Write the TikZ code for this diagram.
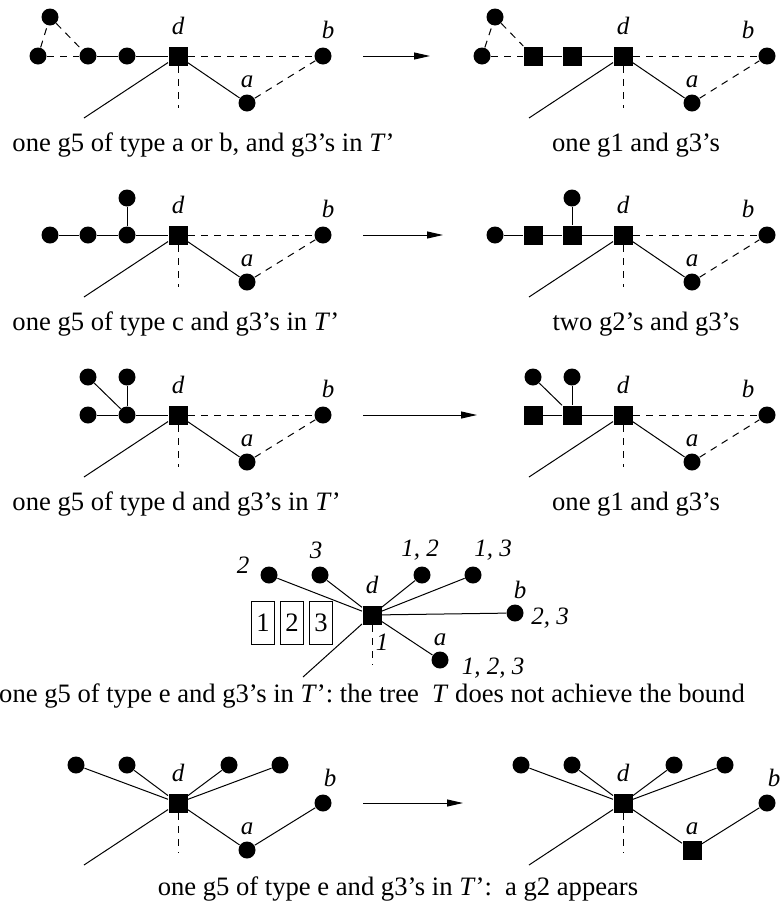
\documentclass[tikz,border=0pt]{standalone}
\usepackage{fontspec}
\setmainfont{Liberation Serif}
\usepackage{tikz}
\usetikzlibrary{arrows.meta,positioning}

\begin{document}
\begin{tikzpicture}[
  x=1pt, y=-1pt, line width=1pt,
  font=\fontsize{26.6pt}{31pt}\selectfont,
  dot/.style={circle, fill, inner sep=0pt, minimum size=17pt},
  sq/.style={rectangle, fill, inner sep=0pt, minimum size=19pt},
  lab/.style={inner sep=0pt, font=\fontsize{25pt}{30pt}\selectfont\itshape},
  capw/.style={inner sep=0pt, anchor=base west},
  capc/.style={inner sep=0pt, anchor=base},
  numbox/.style={draw, inner sep=0pt, minimum width=23pt, minimum height=43pt},
  dashln/.style={dash pattern=on 7pt off 6pt},
  arr/.style={-{Triangle[length=16pt,width=7pt]}}
]
\useasboundingbox (0,0) rectangle (783,919);

% row 1, left
\node[dot] (a1t) at (50,17) {};
\node[dot] (a1l) at (38,56) {};
\node[dot] (a1m) at (88,56) {};
\node[dot] (a1n) at (127,56) {};
\node[sq] (a1d) at (178,56) {};
\node[dot] (a1b) at (323,56) {};
\node[dot] (a1a) at (247,103) {};
\coordinate (a1x) at (84,118);
\coordinate (a1y) at (178,108);
\node[lab, above=11pt of a1d] (a1dl) {d};
\node[lab, above=8pt of a1b, xshift=5pt] (a1bl) {b};
\node[lab, above=6pt of a1a] (a1al) {a};
\draw[dashln] (a1l) -- (a1m);
\draw[dashln] (a1l) -- (a1t) -- (a1m);
\draw (a1m) -- (a1n) -- (a1d);
\draw[dashln] (a1d) -- (a1b);
\draw (a1d) -- (a1a);
\draw[dashln] (a1a) -- (a1b);
\draw (a1d) -- (a1x);
\draw[dashln] (a1d) -- (a1y);
\node[capw] (a1cap) at (12,151) {one g5 of type a or b, and g3’s in \textit{T}’};

\coordinate (r1s) at (363,56);
\coordinate (r1e) at (430,56);
\draw[arr] (r1s) -- (r1e);

% row 1, right
\node[dot] (b1t) at (495,17) {};
\node[dot] (b1l) at (482,56) {};
\node[sq] (b1m) at (533,56) {};
\node[sq] (b1n) at (572,56) {};
\node[sq] (b1d) at (623,56) {};
\node[dot] (b1b) at (767,56) {};
\node[dot] (b1a) at (692,103) {};
\coordinate (b1x) at (529,118);
\coordinate (b1y) at (623,108);
\node[lab, above=11pt of b1d] (b1dl) {d};
\node[lab, above=8pt of b1b, xshift=-19pt] (b1bl) {b};
\node[lab, above=6pt of b1a] (b1al) {a};
\draw[dashln] (b1l) -- (b1m);
\draw[dashln] (b1l) -- (b1t) -- (b1m);
\draw (b1m) -- (b1n) -- (b1d);
\draw[dashln] (b1d) -- (b1b);
\draw (b1d) -- (b1a);
\draw[dashln] (b1a) -- (b1b);
\draw (b1d) -- (b1x);
\draw[dashln] (b1d) -- (b1y);
\node[capc] (b1cap) at (636,151) {one g1 and g3’s};

% row 2, left
\node[dot] (a2l) at (50,235) {};
\node[dot] (a2m) at (88,235) {};
\node[dot] (a2n) at (127,235) {};
\node[dot] (a2t) at (127,198) {};
\node[sq] (a2d) at (178,235) {};
\node[dot] (a2b) at (323,235) {};
\node[dot] (a2a) at (247,282) {};
\coordinate (a2x) at (84,297);
\coordinate (a2y) at (178,287);
\node[lab, above=11pt of a2d] (a2dl) {d};
\node[lab, above=8pt of a2b, xshift=5pt] (a2bl) {b};
\node[lab, above=6pt of a2a] (a2al) {a};
\draw (a2l) -- (a2m) -- (a2n) -- (a2d);
\draw (a2t) -- (a2n);
\draw[dashln] (a2d) -- (a2b);
\draw (a2d) -- (a2a);
\draw[dashln] (a2a) -- (a2b);
\draw (a2d) -- (a2x);
\draw[dashln] (a2d) -- (a2y);
\node[capw] (a2cap) at (12,330) {one g5 of type c and g3’s in \textit{T}’};

\coordinate (r2s) at (363,235);
\coordinate (r2e) at (443,235);
\draw[arr] (r2s) -- (r2e);

% row 2, right
\node[dot] (b2l) at (495,235) {};
\node[sq] (b2m) at (533,235) {};
\node[sq] (b2n) at (572,235) {};
\node[dot] (b2t) at (572,198) {};
\node[sq] (b2d) at (623,235) {};
\node[dot] (b2b) at (767,235) {};
\node[dot] (b2a) at (692,282) {};
\coordinate (b2x) at (529,297);
\coordinate (b2y) at (623,287);
\node[lab, above=11pt of b2d] (b2dl) {d};
\node[lab, above=8pt of b2b, xshift=-19pt] (b2bl) {b};
\node[lab, above=6pt of b2a] (b2al) {a};
\draw (b2l) -- (b2m) -- (b2n) -- (b2d);
\draw (b2t) -- (b2n);
\draw[dashln] (b2d) -- (b2b);
\draw (b2d) -- (b2a);
\draw[dashln] (b2a) -- (b2b);
\draw (b2d) -- (b2x);
\draw[dashln] (b2d) -- (b2y);
\node[capc] (b2cap) at (646,330) {two g2’s and g3’s};

% row 3, left
\node[dot] (a3p) at (88,377) {};
\node[dot] (a3q) at (127,377) {};
\node[dot] (a3m) at (88,415) {};
\node[dot] (a3n) at (127,415) {};
\node[sq] (a3d) at (178,415) {};
\node[dot] (a3b) at (323,415) {};
\node[dot] (a3a) at (247,462) {};
\coordinate (a3x) at (84,477);
\coordinate (a3y) at (178,467);
\node[lab, above=11pt of a3d] (a3dl) {d};
\node[lab, above=8pt of a3b, xshift=5pt] (a3bl) {b};
\node[lab, above=6pt of a3a] (a3al) {a};
\draw (a3m) -- (a3n) -- (a3d);
\draw (a3p) -- (a3n);
\draw (a3q) -- (a3n);
\draw[dashln] (a3d) -- (a3b);
\draw (a3d) -- (a3a);
\draw[dashln] (a3a) -- (a3b);
\draw (a3d) -- (a3x);
\draw[dashln] (a3d) -- (a3y);
\node[capw] (a3cap) at (12,510) {one g5 of type d and g3’s in \textit{T}’};

\coordinate (r3s) at (363,415);
\coordinate (r3e) at (477,415);
\draw[arr] (r3s) -- (r3e);

% row 3, right
\node[dot] (b3p) at (533,377) {};
\node[dot] (b3q) at (572,377) {};
\node[sq] (b3m) at (533,415) {};
\node[sq] (b3n) at (572,415) {};
\node[sq] (b3d) at (623,415) {};
\node[dot] (b3b) at (767,415) {};
\node[dot] (b3a) at (692,462) {};
\coordinate (b3x) at (529,477);
\coordinate (b3y) at (623,467);
\node[lab, above=11pt of b3d] (b3dl) {d};
\node[lab, above=8pt of b3b, xshift=-19pt] (b3bl) {b};
\node[lab, above=6pt of b3a] (b3al) {a};
\draw (b3m) -- (b3n) -- (b3d);
\draw (b3p) -- (b3n);
\draw (b3q) -- (b3n);
\draw[dashln] (b3d) -- (b3b);
\draw (b3d) -- (b3a);
\draw[dashln] (b3a) -- (b3b);
\draw (b3d) -- (b3x);
\draw[dashln] (b3d) -- (b3y);
\node[capc] (b3cap) at (636,510) {one g1 and g3’s};

% middle tree
\node[sq] (md) at (372,615) {};
\node[dot] (m1) at (269,575) {};
\node[dot] (m2) at (320,575) {};
\node[dot] (m3) at (422,575) {};
\node[dot] (m4) at (473,575) {};
\node[dot] (mb) at (515,613) {};
\node[dot] (ma) at (440,660) {};
\coordinate (mx) at (303,677);
\coordinate (my) at (372,665);
\node[lab] (m1l) at (243,565) {2};
\node[lab] (m2l) at (316,550) {3};
\node[lab] (m3l) at (420,550) {1, 2};
\node[lab] (m4l) at (493,550) {1, 3};
\node[lab, above=11pt of md] (mdl) {d};
\node[lab] (mbl) at (520,590) {b};
\node[lab] (mbn) at (550,618) {2, 3};
\node[lab] (myl) at (382,642) {1};
\node[lab] (mal) at (440,640) {a};
\node[lab] (man) at (493,668) {1, 2, 3};
\node[numbox] (box1) at (263,623) {1};
\node[numbox] (box2) at (292,623) {2};
\node[numbox] (box3) at (321,623) {3};
\draw (m1) -- (md);
\draw (m2) -- (md);
\draw (m3) -- (md);
\draw (m4) -- (md);
\draw (md) -- (mb);
\draw (md) -- (ma);
\draw (md) -- (mx);
\draw[dashln] (md) -- (my);
\node[capc] (mcap) at (372,702) {one g5 of type e and g3’s in \textit{T}’: the tree\ \ \textit{T} does not achieve the bound};

% row 5, left
\node[dot] (a5p) at (76,765) {};
\node[dot] (a5q) at (127,765) {};
\node[dot] (a5r) at (229,765) {};
\node[dot] (a5s) at (280,765) {};
\node[sq] (a5d) at (178,803) {};
\node[dot] (a5b) at (323,803) {};
\node[dot] (a5a) at (247,850) {};
\coordinate (a5x) at (84,865);
\coordinate (a5y) at (178,853);
\node[lab, above=11pt of a5d] (a5dl) {d};
\node[lab, above=7pt of a5b, xshift=7pt] (a5bl) {b};
\node[lab, above=6pt of a5a] (a5al) {a};
\draw (a5p) -- (a5d);
\draw (a5q) -- (a5d);
\draw (a5r) -- (a5d);
\draw (a5s) -- (a5d);
\draw (a5d) -- (a5a) -- (a5b);
\draw (a5d) -- (a5x);
\draw[dashln] (a5d) -- (a5y);

\coordinate (r5s) at (363,803);
\coordinate (r5e) at (463,803);
\draw[arr] (r5s) -- (r5e);

% row 5, right
\node[dot] (b5p) at (521,765) {};
\node[dot] (b5q) at (572,765) {};
\node[dot] (b5r) at (674,765) {};
\node[dot] (b5s) at (725,765) {};
\node[sq] (b5d) at (623,803) {};
\node[dot] (b5b) at (767,803) {};
\node[sq] (b5a) at (692,850) {};
\coordinate (b5x) at (529,865);
\coordinate (b5y) at (623,853);
\node[lab, above=11pt of b5d] (b5dl) {d};
\node[lab, above=7pt of b5b, xshift=7pt] (b5bl) {b};
\node[lab, above=5pt of b5a] (b5al) {a};
\draw (b5p) -- (b5d);
\draw (b5q) -- (b5d);
\draw (b5r) -- (b5d);
\draw (b5s) -- (b5d);
\draw (b5d) -- (b5a) -- (b5b);
\draw (b5d) -- (b5x);
\draw[dashln] (b5d) -- (b5y);
\node[capc] (b5cap) at (398,895) {one g5 of type e and g3’s in \textit{T}’:\ \ a g2 appears};
\end{tikzpicture}
\end{document}
